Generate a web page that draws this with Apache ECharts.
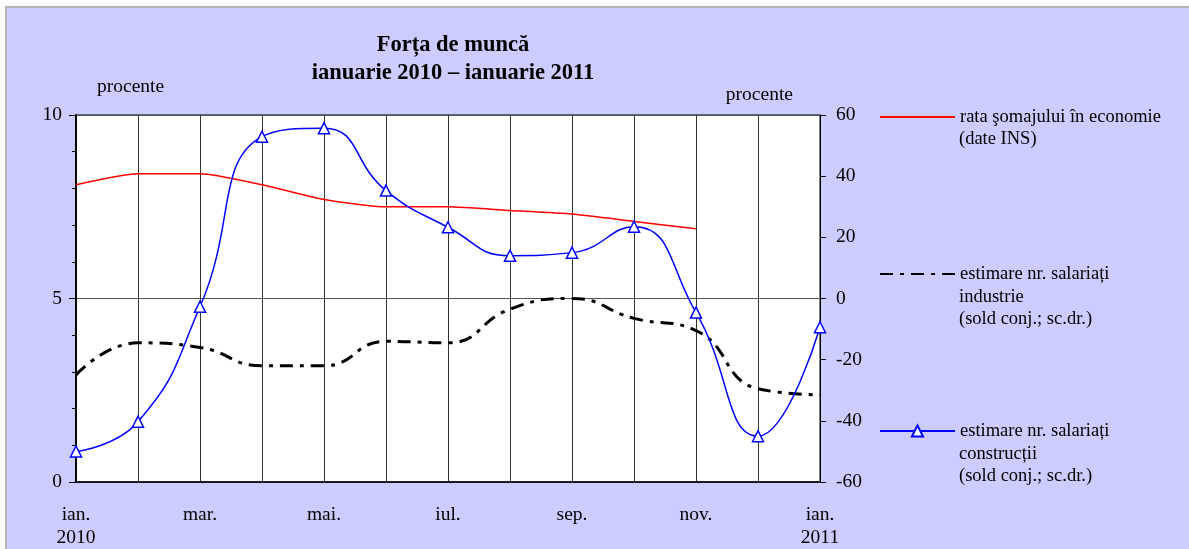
<!DOCTYPE html>
<html>
<head>
<meta charset="utf-8">
<script src="https://cdn.jsdelivr.net/npm/echarts@6/dist/echarts.min.js"></script>
<style>
  html, body { margin: 0; padding: 0; background: #ffffff; }
  #chart { width: 1189px; height: 549px; }
</style>
</head>
<body>
<div id="chart"></div>
<script>
// luni ian. 2010 - ian. 2011
const months = ['ian.\n2010', 'feb.', 'mar.', 'apr.', 'mai.', 'iun.', 'iul.', 'aug.', 'sep.', 'oct.', 'nov.', 'dec.', 'ian.\n2011']

// rata somajului (procente, scala stanga)
const rataSomaj = [8.1, 8.4, 8.4, 8.1, 7.7, 7.5, 7.5, 7.4, 7.3, 7.1, 6.9, null, null]
// sold conjunctural, scala dreapta
const salIndustrie = [-25, -14.5, -16, -22, -22, -14, -14.5, -3.5, 0, -6.5, -10.5, -29.5, -31.5]
const salConstructii = [-50, -40.3, -2.7, 52.9, 55.7, 35.3, 23.3, 14, 15, 23.5, -4.6, -45, -9.4]

const numeRata = 'rata şomajului în economie\n(date INS)'
const numeIndustrie = 'estimare nr. salariați\nindustrie\n(sold conj.; sc.dr.)'
const numeConstr = 'estimare nr. salariați\nconstrucții\n(sold conj.; sc.dr.)'

const font = 'Liberation Serif'
const legendFont = 18.5
const tickFont = 19.5

const chart = echarts.init(document.getElementById('chart'))

// legenda: un element pe componenta, doar primul rand langa linie
const legendItem = (name, iconY, hideSymbol) => ({
  data: [name],
  left: 879,
  top: iconY - 10,
  padding: 0,
  itemWidth: 75,
  itemHeight: 14,
  formatter: (n) => n.split('\n')[0],
  itemStyle: hideSymbol ? { opacity: 0 } : {},
  textStyle: {
    fontFamily: font,
    fontSize: legendFont,
    color: '#000',
    lineHeight: 20
  }
})

// randurile urmatoare ale textului din legenda
const legendRest = (name, firstY, step) =>
  name.split('\n').slice(1).map((t, i) => ({
    type: 'text',
    left: 959,
    top: firstY + (i + 1) * step - 9,
    silent: true,
    style: { text: t, font: legendFont + 'px "' + font + '"', fill: '#000' }
  }))

const option = {
  backgroundColor: '#ffffff',
  animation: false,
  graphic: [
    {
      type: 'rect',
      z: -100,
      silent: true,
      shape: { x: 6, y: 7, width: 1200, height: 600 },
      style: { fill: '#ccccff', stroke: '#b4b4b4', lineWidth: 2 }
    },
    ...legendRest(numeRata, 118, 20.5),
    ...legendRest(numeIndustrie, 275, 22),
    ...legendRest(numeConstr, 432, 22)
  ],
  title: {
    text: 'Forța de muncă\nianuarie 2010 – ianuarie 2011',
    left: 453,
    top: 31,
    padding: 0,
    textAlign: 'center',
    textStyle: {
      fontFamily: font,
      fontSize: 22.5,
      fontWeight: 'bold',
      color: '#000',
      lineHeight: 28
    }
  },
  legend: [
    legendItem(numeRata, 117, true),
    legendItem(numeIndustrie, 274, true),
    legendItem(numeConstr, 431, false)
  ],
  grid: {
    left: 76,
    right: 369,
    top: 115,
    bottom: 67,
    show: true,
    backgroundColor: '#ffffff',
    borderColor: '#000',
    borderWidth: 1
  },
  xAxis: {
    type: 'category',
    data: months,
    boundaryGap: false,
    axisLine: { lineStyle: { color: '#000', width: 1.5 } },
    axisTick: { show: false },
    axisLabel: {
      interval: 1,
      margin: 21,
      fontFamily: font,
      fontSize: tickFont,
      color: '#000',
      lineHeight: 23
    },
    splitLine: { show: true, interval: 0, lineStyle: { color: '#333', width: 1 } }
  },
  yAxis: [
    {
      type: 'value',
      min: 0,
      max: 10,
      interval: 5,
      name: 'procente',
      nameLocation: 'end',
      nameGap: 28,
      nameTextStyle: {
        fontFamily: font,
        fontSize: tickFont,
        color: '#000',
        align: 'left',
        verticalAlign: 'middle',
        padding: [0, 0, 0, 21]
      },
      axisLine: { show: true, lineStyle: { color: '#000', width: 2 } },
      axisTick: { show: true, length: 7, lineStyle: { color: '#000' } },
      minorTick: { show: true, splitNumber: 5, length: 4, lineStyle: { color: '#000' } },
      axisLabel: { margin: 14, fontFamily: font, fontSize: tickFont, color: '#000' },
      splitLine: { show: true, lineStyle: { color: '#555', width: 1 } }
    },
    {
      type: 'value',
      position: 'right',
      min: -60,
      max: 60,
      interval: 20,
      name: 'procente',
      nameLocation: 'end',
      nameGap: 20,
      nameTextStyle: {
        fontFamily: font,
        fontSize: tickFont,
        color: '#000',
        align: 'right',
        verticalAlign: 'middle',
        padding: [0, 27, 0, 0]
      },
      axisLine: { show: true, lineStyle: { color: '#000', width: 1 } },
      axisTick: { show: true, length: 6, lineStyle: { color: '#000' } },
      axisLabel: { margin: 16, fontFamily: font, fontSize: tickFont, color: '#000' },
      splitLine: { show: false }
    }
  ],
  series: [
    {
      name: numeRata,
      type: 'line',
      yAxisIndex: 0,
      data: rataSomaj,
      smooth: 0.2,
      symbol: 'none',
      lineStyle: { color: '#ff0000', width: 1.5 },
      itemStyle: { color: '#ff0000' }
    },
    {
      name: numeIndustrie,
      type: 'line',
      yAxisIndex: 1,
      data: salIndustrie,
      smooth: 0.5,
      symbol: 'none',
      lineStyle: { color: '#000', width: 3, type: [13, 7, 4, 7] },
      itemStyle: { color: '#000' }
    },
    {
      name: numeConstr,
      type: 'line',
      yAxisIndex: 1,
      data: salConstructii,
      smooth: 0.5,
      symbol: 'triangle',
      symbolSize: 11,
      showAllSymbol: true,
      lineStyle: { color: '#0000ff', width: 1.5 },
      itemStyle: { color: '#ffffff', borderColor: '#0000ff', borderWidth: 1.5 }
    }
  ]
}

chart.setOption(option)

window.addEventListener('resize', () => {
  chart.resize()
})
</script>
</body>
</html>
